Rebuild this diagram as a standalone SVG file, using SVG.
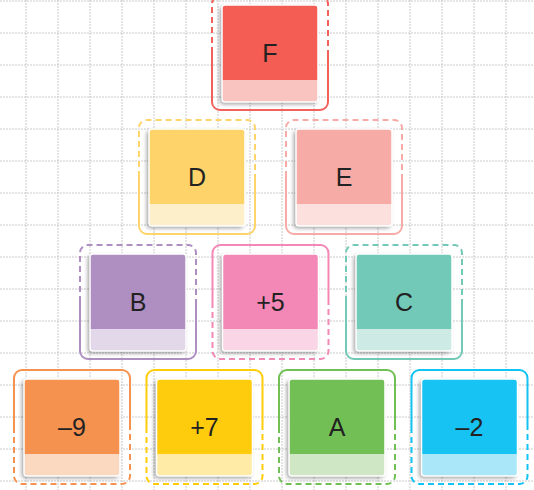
<svg xmlns="http://www.w3.org/2000/svg" width="534" height="490" viewBox="0 0 534 490">
<defs>
<filter id="sh" x="-20%" y="-20%" width="140%" height="140%">
<feDropShadow dx="-2" dy="2" stdDeviation="2" flood-color="#000" flood-opacity="0.4"/>
</filter>
</defs>
<style>
.grid{stroke:#cacaca;stroke-width:1;stroke-dasharray:2 1;fill:none}
.fr{fill:none;stroke-width:2}
.da{stroke-dasharray:6 4}
.out{fill:none;stroke:#fff;stroke-width:1.5}
.lbl{font-family:"Liberation Sans",Arial,sans-serif;font-size:25px;fill:#222;text-anchor:middle}
</style>
<rect width="534" height="490" fill="#fff"/>
<g id="grid">
<path class="grid" d="M26 0V490M58 0V490M90 0V490M122 0V490M154 0V490M186 0V490M218 0V490M250 0V490M282 0V490M314 0V490M346 0V490M378 0V490M410 0V490M442 0V490M474 0V490M506 0V490"/>
<path class="grid" d="M0 1H534M0 33H534M0 65H534M0 97H534M0 129H534M0 161H534M0 193H534M0 225H534M0 257H534M0 289H534M0 321H534M0 353H534M0 385H534M0 417H534M0 449H534M0 481H534"/>
</g>
<g id="connectors"></g>

<g id="F" transform="translate(222,5)">
<path class="fr da" stroke="#F2615A" d="M-10 48V-1A8 8 0 0 1 -2 -9H98A8 8 0 0 1 106 -1V48"/>
<path class="fr" stroke="#F2615A" d="M-10 48V97A8 8 0 0 0 -2 105H98A8 8 0 0 0 106 97V48"/>
<g filter="url(#sh)"><rect width="96" height="97" rx="3" fill="#F35D52"/></g>
<path d="M0 75H96V94A3 3 0 0 1 93 97H3A3 3 0 0 1 0 94Z" fill="#F9C3C0"/>
<rect class="out" width="96" height="97" rx="3"/>
<text class="lbl" x="48" y="57">F</text>
</g>

<g id="D" transform="translate(149,129)">
<path class="fr da" stroke="#FED46B" d="M-10 48V-1A8 8 0 0 1 -2 -9H98A8 8 0 0 1 106 -1V48"/>
<path class="fr" stroke="#FED46B" d="M-10 48V97A8 8 0 0 0 -2 105H98A8 8 0 0 0 106 97V48"/>
<g filter="url(#sh)"><rect width="96" height="97" rx="3" fill="#FED46B"/></g>
<path d="M0 75H96V94A3 3 0 0 1 93 97H3A3 3 0 0 1 0 94Z" fill="#FEEFCB"/>
<rect class="out" width="96" height="97" rx="3"/>
<text class="lbl" x="48" y="57">D</text>
</g>

<g id="E" transform="translate(296,129)">
<path class="fr da" stroke="#F7ABA6" d="M-10 48V-1A8 8 0 0 1 -2 -9H98A8 8 0 0 1 106 -1V48"/>
<path class="fr" stroke="#F7ABA6" d="M-10 48V97A8 8 0 0 0 -2 105H98A8 8 0 0 0 106 97V48"/>
<g filter="url(#sh)"><rect width="96" height="97" rx="3" fill="#F7ABA6"/></g>
<path d="M0 75H96V94A3 3 0 0 1 93 97H3A3 3 0 0 1 0 94Z" fill="#FCE0DE"/>
<rect class="out" width="96" height="97" rx="3"/>
<text class="lbl" x="48" y="57">E</text>
</g>

<g id="B" transform="translate(90,254)">
<path class="fr da" stroke="#AF8EC2" d="M-10 48V-1A8 8 0 0 1 -2 -9H98A8 8 0 0 1 106 -1V48"/>
<path class="fr" stroke="#AF8EC2" d="M-10 48V97A8 8 0 0 0 -2 105H98A8 8 0 0 0 106 97V48"/>
<g filter="url(#sh)"><rect width="96" height="97" rx="3" fill="#AF8EC2"/></g>
<path d="M0 75H96V94A3 3 0 0 1 93 97H3A3 3 0 0 1 0 94Z" fill="#E3D7EA"/>
<rect class="out" width="96" height="97" rx="3"/>
<text class="lbl" x="48" y="57">B</text>
</g>

<g id="P5" transform="translate(222.5,254)">
<path class="fr" stroke="#F388B6" d="M-10 48V-1A8 8 0 0 1 -2 -9H98A8 8 0 0 1 106 -1V48"/>
<path class="fr da" stroke="#F388B6" d="M-10 48V97A8 8 0 0 0 -2 105H98A8 8 0 0 0 106 97V48"/>
<g filter="url(#sh)"><rect width="96" height="97" rx="3" fill="#F388B6"/></g>
<path d="M0 75H96V94A3 3 0 0 1 93 97H3A3 3 0 0 1 0 94Z" fill="#F9D5E5"/>
<rect class="out" width="96" height="97" rx="3"/>
<text class="lbl" x="48" y="57">+5</text>
</g>

<g id="C" transform="translate(356,254)">
<path class="fr da" stroke="#72C9B8" d="M-10 48V-1A8 8 0 0 1 -2 -9H98A8 8 0 0 1 106 -1V48"/>
<path class="fr" stroke="#72C9B8" d="M-10 48V97A8 8 0 0 0 -2 105H98A8 8 0 0 0 106 97V48"/>
<g filter="url(#sh)"><rect width="96" height="97" rx="3" fill="#72C9B8"/></g>
<path d="M0 75H96V94A3 3 0 0 1 93 97H3A3 3 0 0 1 0 94Z" fill="#CDEAE4"/>
<rect class="out" width="96" height="97" rx="3"/>
<text class="lbl" x="48" y="57">C</text>
</g>

<g id="M9" transform="translate(24,379)">
<path class="fr" stroke="#F6924F" d="M-10 48V-1A8 8 0 0 1 -2 -9H98A8 8 0 0 1 106 -1V48"/>
<path class="fr da" stroke="#F6924F" d="M-10 48V97A8 8 0 0 0 -2 105H98A8 8 0 0 0 106 97V48"/>
<g filter="url(#sh)"><rect width="96" height="97" rx="3" fill="#F6924F"/></g>
<path d="M0 75H96V94A3 3 0 0 1 93 97H3A3 3 0 0 1 0 94Z" fill="#FBD8C0"/>
<rect class="out" width="96" height="97" rx="3"/>
<text class="lbl" x="48" y="57">–9</text>
</g>

<g id="P7" transform="translate(156.5,379)">
<path class="fr" stroke="#FFCC08" d="M-10 48V-1A8 8 0 0 1 -2 -9H98A8 8 0 0 1 106 -1V48"/>
<path class="fr da" stroke="#FFCC08" d="M-10 48V97A8 8 0 0 0 -2 105H98A8 8 0 0 0 106 97V48"/>
<g filter="url(#sh)"><rect width="96" height="97" rx="3" fill="#FFCC08"/></g>
<path d="M0 75H96V94A3 3 0 0 1 93 97H3A3 3 0 0 1 0 94Z" fill="#FFEBA6"/>
<rect class="out" width="96" height="97" rx="3"/>
<text class="lbl" x="48" y="57">+7</text>
</g>

<g id="A" transform="translate(289,379)">
<path class="fr" stroke="#72C055" d="M-10 48V-1A8 8 0 0 1 -2 -9H98A8 8 0 0 1 106 -1V48"/>
<path class="fr da" stroke="#72C055" d="M-10 48V97A8 8 0 0 0 -2 105H98A8 8 0 0 0 106 97V48"/>
<g filter="url(#sh)"><rect width="96" height="97" rx="3" fill="#72C055"/></g>
<path d="M0 75H96V94A3 3 0 0 1 93 97H3A3 3 0 0 1 0 94Z" fill="#CFE7C5"/>
<rect class="out" width="96" height="97" rx="3"/>
<text class="lbl" x="48" y="57">A</text>
</g>

<g id="M2" transform="translate(421.5,379)">
<path class="fr" stroke="#12C3F3" d="M-10 48V-1A8 8 0 0 1 -2 -9H98A8 8 0 0 1 106 -1V48"/>
<path class="fr da" stroke="#12C3F3" d="M-10 48V97A8 8 0 0 0 -2 105H98A8 8 0 0 0 106 97V48"/>
<g filter="url(#sh)"><rect width="96" height="97" rx="3" fill="#12C3F3"/></g>
<path d="M0 75H96V94A3 3 0 0 1 93 97H3A3 3 0 0 1 0 94Z" fill="#A9E7F9"/>
<rect class="out" width="96" height="97" rx="3"/>
<text class="lbl" x="48" y="57">–2</text>
</g>
</svg>
